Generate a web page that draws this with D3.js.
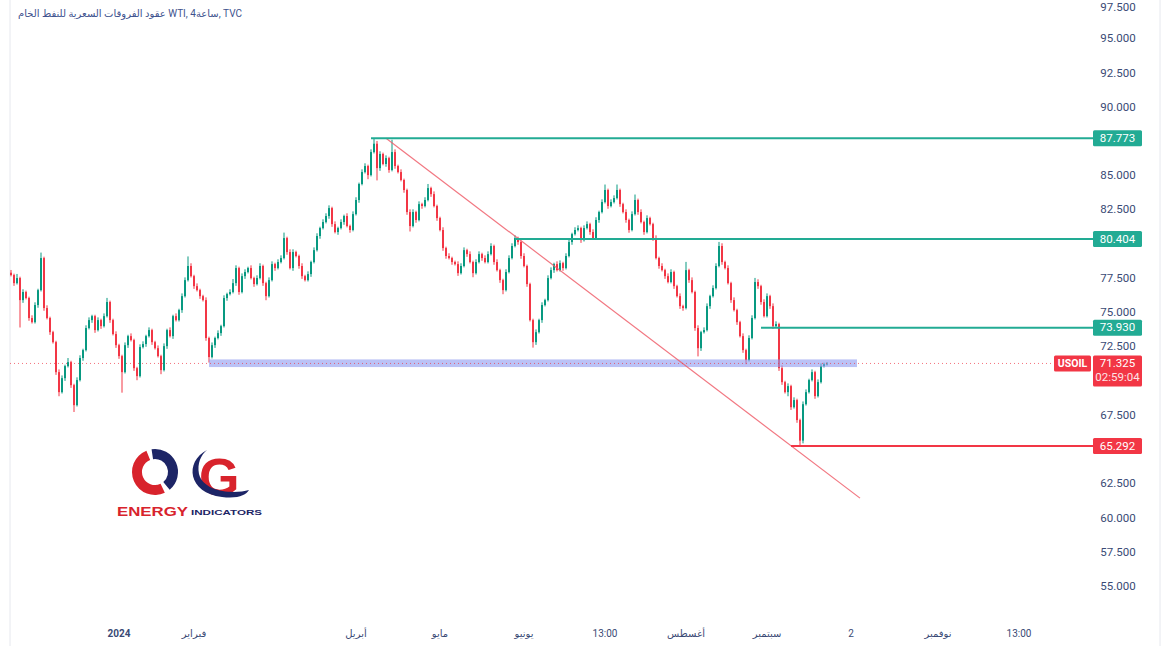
<!DOCTYPE html>
<meta charset="utf-8">
<style>
body { margin: 0; background: #fff; }
svg { display: block; font-family: Roboto, "DejaVu Sans", sans-serif; }
.axis text { fill: #3a4a75; font-size: 11.5px; }
</style>
<svg width="1168" height="646"></svg>
<script src="https://d3js.org/d3.v7.min.js"></script>
<script>
// 4h candles (closes; open = previous close)
var firstOpen = 77.95;
var closes = [
  77.78, 77.19, 77.56, 75.95, 76.54, 76.10, 74.64, 74.34, 75.59, 76.68,
  79.02, 75.37, 74.64, 73.61, 72.88, 70.69, 69.23, 70.25, 71.13, 71.42,
  69.74, 68.28, 70.11, 71.72, 72.30, 73.91, 74.49, 74.78, 73.76, 74.49,
  74.05, 74.78, 75.81, 74.49, 73.47, 72.66, 71.86, 70.69, 72.66, 73.32,
  73.03, 70.98, 70.40, 72.52, 72.74, 73.32, 73.76, 72.88, 72.44, 71.86,
  70.84, 72.59, 73.76, 73.32, 74.78, 74.49, 75.22, 76.24, 77.41, 78.44,
  77.70, 76.97, 76.68, 76.24, 75.95, 73.18, 71.79, 72.66, 73.18, 73.54,
  74.05, 76.10, 76.39, 76.54, 77.19, 78.29, 76.54, 77.70, 78.00, 78.29,
  77.56, 77.12, 77.56, 78.44, 77.19, 76.24, 77.41, 78.58, 78.29, 78.73,
  79.02, 80.48, 79.46, 78.29, 79.46, 79.17, 78.44, 77.70, 77.41, 77.85,
  78.73, 79.60, 80.63, 81.21, 81.65, 82.09, 82.67, 81.50, 80.92, 81.21,
  81.65, 82.09, 81.36, 81.07, 82.23, 83.26, 84.43, 85.30, 85.74, 85.08,
  86.76, 87.37, 85.59, 86.62, 85.89, 86.32, 85.45, 86.76, 85.74, 85.30,
  84.72, 83.99, 82.38, 81.36, 82.38, 81.80, 82.96, 82.82, 83.26, 84.13,
  83.69, 82.82, 81.94, 81.07, 79.75, 79.17, 79.02, 78.73, 78.58, 77.92,
  78.44, 79.60, 79.31, 78.73, 77.92, 78.73, 79.31, 79.02, 78.73, 79.31,
  79.90, 78.73, 78.14, 77.41, 76.68, 78.00, 79.02, 79.90, 80.48, 80.19,
  79.17, 78.44, 77.12, 74.49, 72.88, 73.61, 74.49, 75.59, 75.95, 77.56,
  78.14, 78.58, 78.14, 78.65, 78.29, 79.17, 80.19, 80.77, 81.07, 81.21,
  80.33, 81.21, 81.50, 80.92, 80.48, 81.80, 82.38, 83.11, 83.99, 82.82,
  83.11, 83.40, 83.99, 82.96, 82.38, 81.80, 81.07, 82.23, 83.26, 82.38,
  81.65, 80.92, 81.94, 81.50, 80.48, 79.02, 78.44, 78.14, 77.70, 77.27,
  78.00, 76.97, 76.24, 75.51, 75.37, 78.14, 77.41, 76.54, 73.91, 72.44,
  73.61, 73.76, 75.51, 76.24, 76.83, 78.44, 79.90, 78.73, 78.29, 77.19,
  75.95, 75.22, 74.34, 73.32, 72.30, 71.57, 73.18, 74.64, 77.27, 76.97,
  75.81, 74.78, 76.24, 75.51, 74.05, 74.20, 70.98, 69.96, 69.23, 69.67,
  68.13, 68.65, 67.19, 65.69, 68.35, 69.23, 70.11, 70.69, 68.94, 69.96,
  71.13, 71.28, 71.325
];
// wick lengths above / below the body, in tenths of a dollar
var wickUp = [
  2,1,3,1,2,1,1,2,2,1, 4,1,2,1,1,1,2,2,1,3, 1,1,2,2,1,2,2,1,1,2,
  1,2,3,1,1,2,1,1,2,1, 2,1,1,2,2,1,2,1,1,2, 1,2,1,2,1,2,1,2,2,7,
  2,1,2,1,1,2,1,2,1,2, 1,2,1,2,3,2,1,2,2,1, 2,1,2,2,1,1,2,2,1,2,
  2,4,1,2,2,1,1,2,1,2, 1,2,2,1,2,2,2,1,2,1, 2,1,2,1,2,2,1,2,2,1,
  2,4,2,2,1,2,1,9,2,1, 2,1,1,2,2,1,2,1,2,3, 1,2,1,1,2,1,2,1,1,2,
  2,2,1,2,1,2,2,1,2,2, 2,1,2,1,1,2,2,2,2,1, 1,2,1,1,1,2,1,2,1,2,
  2,1,2,2,1,2,2,1,2,2, 1,2,2,1,2,2,1,2,4,1, 2,2,4,1,1,2,1,2,4,1,
  2,1,2,1,1,2,1,2,1,2, 2,1,1,2,1,6,1,2,1,2, 1,2,2,1,2,2,3,2,1,2,
  1,2,1,1,2,1,2,2,3,2, 1,2,2,1,2,2,1,2,1,2, 1,2,1,1,2,2,1,2,1,2,
  2,1,1
];
var wickDown = [
  1,2,1,20,2,1,2,1,1,2, 1,2,1,2,1,2,3,1,2,1, 2,5,1,1,2,1,1,2,2,1,
  2,1,1,2,1,2,2,15,1,2, 1,2,3,1,1,2,1,2,1,1, 3,1,2,1,2,1,1,2,1,1,
  1,2,1,2,1,2,4,1,2,1, 2,1,2,1,1,2,2,1,2,1, 1,2,1,1,2,3,1,1,2,1,
  1,1,2,1,2,1,2,2,1,1, 2,1,1,2,1,1,2,2,1,2, 1,2,1,2,1,1,2,1,1,3,
  1,1,9,2,1,2,2,1,2,1, 1,2,2,4,1,2,1,2,1,1, 2,1,2,1,2,2,1,2,1,2,
  1,1,2,1,3,1,1,2,1,1, 1,2,1,2,3,1,1,1,1,2, 2,1,2,1,4,2,1,2,1,1,
  1,2,1,1,2,1,1,2,1,1, 2,1,1,2,1,1,2,1,1,2, 1,1,1,2,1,2,2,1,1,2,
  1,2,1,1,2,1,2,1,2,1, 1,2,1,2,2,1,2,1,2,6, 2,1,1,2,1,1,1,2,1,1,
  2,1,2,1,2,3,1,1,1,2, 2,1,1,2,2,1,2,2,1,3, 2,1,2,4,2,1,1,1,2,1,
  1,1,1
];

var priceTicks = [97.5, 95, 92.5, 90, 85, 82.5, 77.5, 75, 72.5, 67.5, 62.5, 60, 57.5, 55];
var timeTicks = [36, 61, 115, 143, 171, 198, 225, 252, 280, 309, 336];
var timeLabels = ["2024", "فبراير", "أبريل", "مايو", "يونيو", "13:00", "أغسطس", "سبتمبر", "2", "نوفمبر", "13:00"];

// drawings
var levelPrices = [87.773, 80.404, 73.930, 65.292];
var levelStart = [120, 168, 250, 260];
var levelUp = [true, true, true, false];
var zonePrices = [71.62, 71.06];
var zoneRange = [66, 282];
var trendFrom = [125, 87.77], trendTo = [283, 61.49];
var lastPrice = 71.325, countdown = "02:59:04", symbol = "USOIL";
var title = "عقود الفروقات السعرية للنفط الخام WTI, 4ساعة, TVC";

var svg = d3.select("svg");
var upColor = "#089981", downColor = "#f23645", lineGreen = "#22ab94";

var x = d3.scaleLinear().domain([0, closes.length - 1]).range([11, 827]);
var y = d3.scaleLinear().domain([55, 97.5]).range([587, 5]);
var axisRight = 1090;

// frame
svg.append("line").attr("x1", 10).attr("x2", 10).attr("y1", 0).attr("y2", 646).attr("stroke", "#e6e8ee");
svg.append("line").attr("x1", 1160).attr("x2", 1160).attr("y1", 0).attr("y2", 646).attr("stroke", "#e6e8ee");

// candles
var candles = closes.map(function(c, i) {
  var o = i ? closes[i - 1] : firstOpen;
  return { i: i, o: o, c: c,
    h: Math.max(o, c) + wickUp[i] / 10,
    l: Math.min(o, c) - wickDown[i] / 10 };
});

var g = svg.append("g");
g.selectAll("line.wick").data(candles).enter().append("line")
    .attr("x1", function(d) { return x(d.i); })
    .attr("x2", function(d) { return x(d.i); })
    .attr("y1", function(d) { return y(d.h); })
    .attr("y2", function(d) { return y(d.l); })
    .attr("stroke", function(d) { return d.c >= d.o ? upColor : downColor; })
    .attr("stroke-width", 1);
g.selectAll("rect").data(candles).enter().append("rect")
    .attr("x", function(d) { return x(d.i) - 1; })
    .attr("width", 2)
    .attr("y", function(d) { return y(Math.max(d.o, d.c)); })
    .attr("height", function(d) { return Math.max(1, Math.abs(y(d.o) - y(d.c))); })
    .attr("fill", function(d) { return d.c >= d.o ? upColor : downColor; });

// blue zone
svg.append("rect")
    .attr("x", x(zoneRange[0])).attr("width", x(zoneRange[1]) - x(zoneRange[0]))
    .attr("y", y(zonePrices[0])).attr("height", y(zonePrices[1]) - y(zonePrices[0]))
    .attr("fill", "#8e9af0").attr("opacity", 0.6);

// trend line
svg.append("line")
    .attr("x1", x(trendFrom[0])).attr("y1", y(trendFrom[1]))
    .attr("x2", x(trendTo[0])).attr("y2", y(trendTo[1]))
    .attr("stroke", "#f0606c").attr("stroke-width", 1.2).attr("opacity", 0.85);

// last price dotted line
svg.append("line")
    .attr("x1", 10).attr("x2", axisRight)
    .attr("y1", y(lastPrice)).attr("y2", y(lastPrice))
    .attr("stroke", "#f23645").attr("stroke-dasharray", "1,3").attr("opacity", 0.7);

// horizontal levels
levelPrices.forEach(function(p, k) {
  svg.append("line")
      .attr("x1", x(levelStart[k])).attr("x2", axisRight + 4)
      .attr("y1", y(p)).attr("y2", y(p))
      .attr("stroke", levelUp[k] ? lineGreen : downColor).attr("stroke-width", 2);
});

// price axis
var axis = svg.append("g").attr("class", "axis");
axis.selectAll("text.tick").data(priceTicks).enter().append("text")
    .attr("x", 1118).attr("y", function(d) { return Math.max(8, y(d)); })
    .attr("text-anchor", "middle").attr("dominant-baseline", "middle")
    .text(function(d) { return d.toFixed(3); });

levelPrices.forEach(function(p, k) {
  axis.append("rect").attr("x", 1093).attr("y", y(p) - 8).attr("width", 49).attr("height", 16)
      .attr("rx", 1.5).attr("fill", levelUp[k] ? lineGreen : downColor);
  axis.append("text").attr("x", 1117.5).attr("y", y(p) + 0.5)
      .attr("text-anchor", "middle").attr("dominant-baseline", "middle")
      .style("fill", "#fff").text(p.toFixed(3));
});

var ly = y(lastPrice);
axis.append("rect").attr("x", 1093).attr("y", ly - 8).attr("width", 49).attr("height", 31)
    .attr("rx", 1.5).attr("fill", downColor);
axis.append("text").attr("x", 1117.5).attr("y", ly + 0.5).attr("text-anchor", "middle")
    .attr("dominant-baseline", "middle").style("fill", "#fff").text(lastPrice.toFixed(3));
axis.append("text").attr("x", 1117.5).attr("y", ly + 15).attr("text-anchor", "middle")
    .attr("dominant-baseline", "middle").style("fill", "#fde4e6").text(countdown);
axis.append("rect").attr("x", 1054).attr("y", ly - 8).attr("width", 37).attr("height", 16)
    .attr("rx", 1.5).attr("fill", downColor);
axis.append("text").attr("x", 1072.5).attr("y", ly + 0.5).attr("text-anchor", "middle")
    .attr("dominant-baseline", "middle").style("fill", "#fff").style("font-size", "10.5px")
    .style("font-weight", "bold").text(symbol);

// time axis
axis.selectAll("text.time").data(timeTicks).enter().append("text")
    .attr("x", function(d) { return x(d); }).attr("y", 637)
    .attr("text-anchor", "middle")
    .style("font-size", "10px")
    .style("font-weight", function(d, i) { return i === 0 ? "bold" : "normal"; })
    .text(function(d, i) { return timeLabels[i]; });

// title
svg.append("text").attr("x", 18).attr("y", 17)
    .style("font-size", "10px").style("fill", "#40528e").text(title);

// logo
var logo = svg.append("g");
var navy = "#1d2566", red = "#d8232c";
var ring = d3.arc().innerRadius(13).outerRadius(23);
logo.append("path").attr("transform", "translate(155,472)")
    .attr("d", ring({ startAngle: -0.15, endAngle: 2.45 })).attr("fill", navy);
logo.append("path").attr("transform", "translate(155,472)")
    .attr("d", ring({ startAngle: 2.7, endAngle: 5.9 })).attr("fill", red);
logo.append("text").attr("x", 199).attr("y", 495)
    .style("font-family", "'Liberation Sans', Arial, sans-serif")
    .style("font-size", "52px").style("font-weight", "bold").style("fill", red).text("G");
logo.append("path")
    .attr("d", "M207,450 C184,462 188,493 222,497 C238,499 246,495 249,490 C235,494 204,493 199,474 C197,463 201,455 207,450 Z")
    .attr("fill", navy);
logo.append("text").attr("x", 117).attr("y", 516)
    .attr("textLength", 71).attr("lengthAdjust", "spacingAndGlyphs")
    .style("font-family", "'Liberation Sans', Arial, sans-serif")
    .style("font-size", "13px").style("font-weight", "900").style("fill", red).text("ENERGY");
logo.append("text").attr("x", 191).attr("y", 515)
    .attr("textLength", 71).attr("lengthAdjust", "spacingAndGlyphs")
    .style("font-family", "'Liberation Sans', Arial, sans-serif")
    .style("font-size", "8px").style("font-weight", "bold").style("fill", navy).text("INDICATORS");
</script>
